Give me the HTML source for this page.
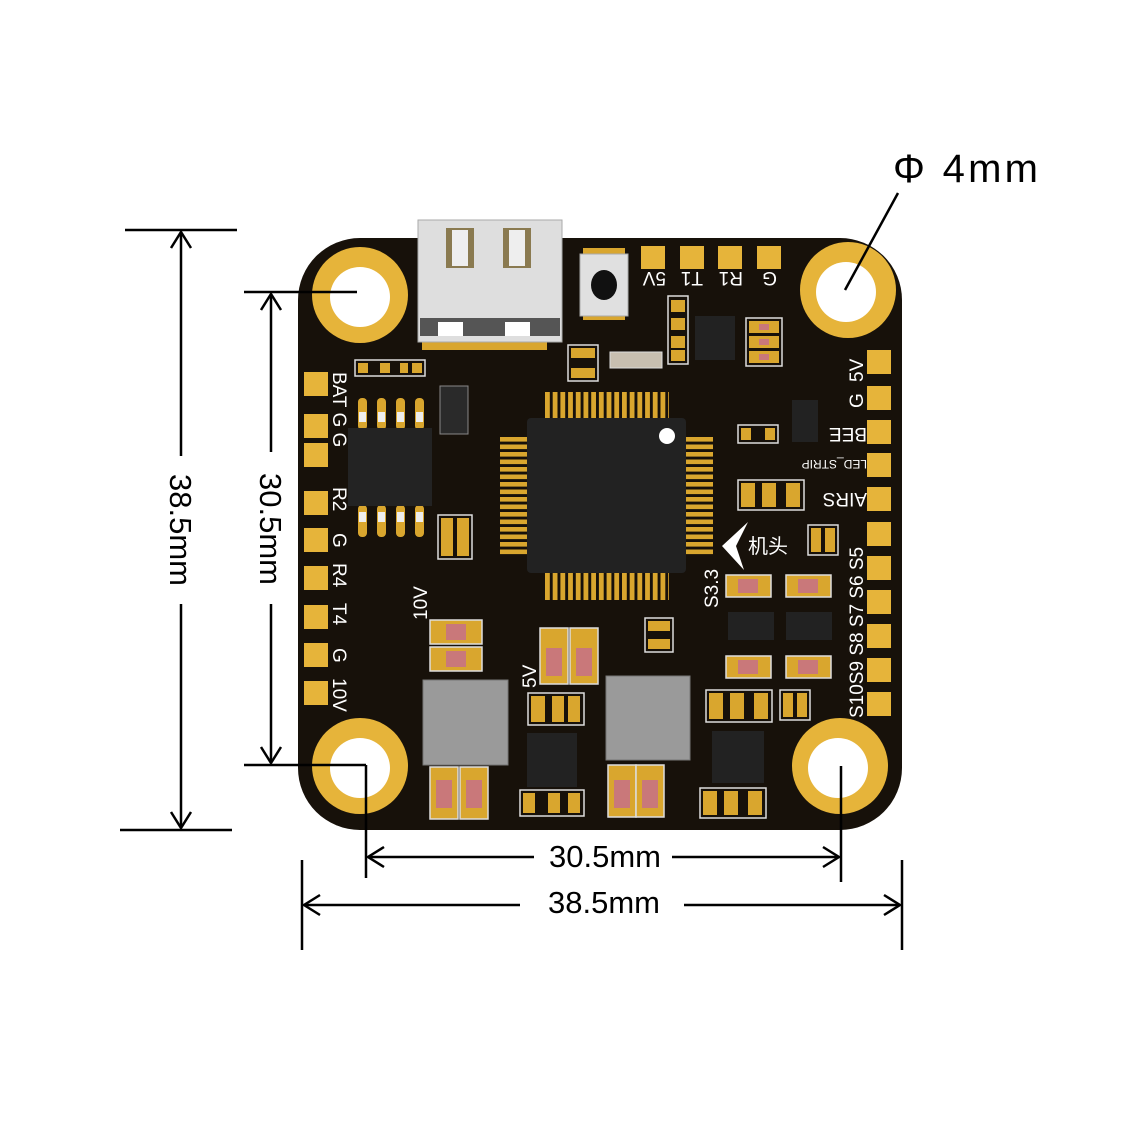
<!DOCTYPE html>
<html><head><meta charset="utf-8"><style>
html,body{margin:0;padding:0;background:#fff;}
svg{display:block;}
text{font-family:"Liberation Sans","Noto Sans CJK SC",sans-serif;}
</style></head><body>
<svg width="1133" height="1133" viewBox="0 0 1133 1133" xmlns="http://www.w3.org/2000/svg">
<defs>
<pattern id="pv" x="545" y="0" width="7.7" height="10" patternUnits="userSpaceOnUse"><rect x="0" y="0" width="4.8" height="10" fill="#d9a62e"/></pattern>
<pattern id="ph" x="0" y="437" width="10" height="7.5" patternUnits="userSpaceOnUse"><rect x="0" y="0" width="10" height="4.6" fill="#d9a62e"/></pattern>
</defs>
<!-- board -->
<rect x="298" y="238" width="604" height="592" rx="62" fill="#17110a"/>
<!-- holes -->
<g fill="#e6b43a">
<circle cx="360" cy="295" r="48"/><circle cx="848" cy="290" r="48"/>
<circle cx="360" cy="766" r="48"/><circle cx="840" cy="766" r="48"/>
</g>
<g fill="#fff">
<circle cx="360" cy="297" r="30"/><circle cx="846" cy="292" r="30"/>
<circle cx="360" cy="768" r="30"/><circle cx="838" cy="768" r="30"/>
</g>
<!-- USB -->
<rect x="422" y="336" width="125" height="14" fill="#d9a62e"/>
<rect x="418" y="220" width="144" height="122" fill="#dedede" stroke="#aaa"/>
<rect x="446" y="228" width="28" height="40" fill="#8a7a50"/><rect x="503" y="228" width="28" height="40" fill="#8a7a50"/>
<rect x="452" y="230" width="16" height="36" fill="#eee"/><rect x="509" y="230" width="16" height="36" fill="#eee"/>
<rect x="420" y="318" width="140" height="18" fill="#555"/>
<rect x="438" y="322" width="25" height="14" fill="#fff"/><rect x="505" y="322" width="25" height="14" fill="#fff"/>
<!-- button -->
<rect x="583" y="248" width="42" height="12" fill="#d9a62e"/><rect x="583" y="308" width="42" height="12" fill="#d9a62e"/>
<rect x="580" y="254" width="48" height="62" fill="#e0e0e0" stroke="#aaa"/>
<ellipse cx="604" cy="285" rx="13" ry="15" fill="#111"/>
<!-- top pads -->
<g fill="#e6b43a">
<rect x="641" y="246" width="24" height="23"/><rect x="680" y="246" width="24" height="23"/>
<rect x="718" y="246" width="24" height="23"/><rect x="757" y="246" width="24" height="23"/>
</g>
<!-- left pads -->
<g fill="#e6b43a">
<rect x="304" y="372" width="24" height="24"/><rect x="304" y="414" width="24" height="24"/><rect x="304" y="443" width="24" height="24"/>
<rect x="304" y="491" width="24" height="24"/><rect x="304" y="528" width="24" height="24"/><rect x="304" y="566" width="24" height="24"/>
<rect x="304" y="605" width="24" height="24"/><rect x="304" y="643" width="24" height="24"/><rect x="304" y="681" width="24" height="24"/>
</g>
<!-- right pads -->
<g fill="#e6b43a">
<rect x="867" y="350" width="24" height="24"/><rect x="867" y="386" width="24" height="24"/><rect x="867" y="420" width="24" height="24"/>
<rect x="867" y="453" width="24" height="24"/><rect x="867" y="487" width="24" height="24"/><rect x="867" y="522" width="24" height="24"/>
<rect x="867" y="556" width="24" height="24"/><rect x="867" y="590" width="24" height="24"/><rect x="867" y="624" width="24" height="24"/>
<rect x="867" y="658" width="24" height="24"/><rect x="867" y="692" width="24" height="24"/>
</g>
<!-- MCU -->
<rect x="545" y="392" width="124" height="26" fill="url(#pv)"/>
<rect x="545" y="573" width="124" height="27" fill="url(#pv)"/>
<rect x="500" y="437" width="27" height="120" fill="url(#ph)"/>
<rect x="686" y="437" width="27" height="120" fill="url(#ph)"/>
<rect x="527" y="418" width="159" height="155" rx="4" fill="#222"/>
<circle cx="667" cy="436" r="8" fill="#fff"/>
<!-- left chip -->
<g fill="#d9a62e"><rect x="358" y="398" width="9" height="32" rx="4"/><rect x="377" y="398" width="9" height="32" rx="4"/><rect x="396" y="398" width="9" height="32" rx="4"/><rect x="415" y="398" width="9" height="32" rx="4"/>
<rect x="358" y="505" width="9" height="32" rx="4"/><rect x="377" y="505" width="9" height="32" rx="4"/><rect x="396" y="505" width="9" height="32" rx="4"/><rect x="415" y="505" width="9" height="32" rx="4"/></g>
<g fill="#eee"><rect x="359" y="412" width="7" height="10"/><rect x="378" y="412" width="7" height="10"/><rect x="397" y="412" width="7" height="10"/><rect x="416" y="412" width="7" height="10"/>
<rect x="359" y="512" width="7" height="10"/><rect x="378" y="512" width="7" height="10"/><rect x="397" y="512" width="7" height="10"/><rect x="416" y="512" width="7" height="10"/></g>
<rect x="348" y="428" width="84" height="78" fill="#232323"/>
<rect x="440" y="386" width="28" height="48" fill="#2a2a2a" stroke="#888"/>
<!-- inductors -->
<rect x="423" y="680" width="85" height="85" fill="#9a9a9a" stroke="#777"/>
<rect x="606" y="676" width="84" height="84" fill="#9a9a9a" stroke="#777"/>
<!-- small chips -->
<rect x="527" y="733" width="50" height="54" fill="#222"/>
<rect x="712" y="731" width="52" height="52" fill="#222"/>
<rect x="695" y="316" width="40" height="44" fill="#222"/>
<rect x="728" y="612" width="46" height="28" fill="#222"/>
<rect x="786" y="612" width="46" height="28" fill="#222"/>
<rect x="792" y="400" width="26" height="42" fill="#222"/>
<rect x="610" y="352" width="52" height="16" fill="#c8bfb0" stroke="#ddd"/>
<!-- small passive outlines -->
<g fill="#17110a" stroke="#ddd" stroke-width="1.5">
<rect x="355" y="360" width="70" height="16"/><rect x="738" y="480" width="66" height="30"/>
<rect x="738" y="425" width="40" height="18"/><rect x="808" y="525" width="30" height="30"/>
<rect x="700" y="788" width="66" height="30"/><rect x="520" y="790" width="64" height="26"/>
<rect x="780" y="690" width="30" height="30"/><rect x="706" y="690" width="66" height="32"/>
<rect x="528" y="693" width="56" height="32"/><rect x="645" y="618" width="28" height="34"/>
<rect x="438" y="515" width="34" height="44"/><rect x="568" y="345" width="30" height="36"/>
<rect x="746" y="318" width="36" height="48"/>
<rect x="668" y="296" width="20" height="68"/><rect x="670" y="252" width="50" height="0"/>
</g>
<g fill="#d9a62e">
<rect x="358" y="363" width="10" height="10"/><rect x="380" y="363" width="10" height="10"/><rect x="400" y="363" width="8" height="10"/><rect x="412" y="363" width="10" height="10"/>
<rect x="741" y="483" width="14" height="24"/><rect x="762" y="483" width="14" height="24"/><rect x="786" y="483" width="14" height="24"/>
<rect x="741" y="428" width="10" height="12"/><rect x="765" y="428" width="10" height="12"/>
<rect x="811" y="528" width="10" height="24"/><rect x="825" y="528" width="10" height="24"/>
<rect x="703" y="791" width="14" height="24"/><rect x="724" y="791" width="14" height="24"/><rect x="748" y="791" width="14" height="24"/>
<rect x="523" y="793" width="12" height="20"/><rect x="548" y="793" width="12" height="20"/><rect x="568" y="793" width="12" height="20"/>
<rect x="783" y="693" width="10" height="24"/><rect x="797" y="693" width="10" height="24"/>
<rect x="709" y="693" width="14" height="26"/><rect x="730" y="693" width="14" height="26"/><rect x="754" y="693" width="14" height="26"/>
<rect x="531" y="696" width="14" height="26"/><rect x="552" y="696" width="12" height="26"/><rect x="568" y="696" width="12" height="26"/>
<rect x="648" y="621" width="22" height="10"/><rect x="648" y="639" width="22" height="10"/>
<rect x="441" y="518" width="12" height="38"/><rect x="457" y="518" width="12" height="38"/>
<rect x="571" y="348" width="24" height="10"/><rect x="571" y="368" width="24" height="10"/>
<rect x="749" y="321" width="30" height="12"/><rect x="749" y="336" width="30" height="12"/><rect x="749" y="351" width="30" height="12"/>
<rect x="671" y="300" width="14" height="12"/><rect x="671" y="318" width="14" height="12"/><rect x="671" y="336" width="14" height="12"/><rect x="671" y="350" width="14" height="11"/>
</g>
<!-- caps/resistors -->
<g fill="#d9a62e" stroke="#ddd" stroke-width="1.5">
<rect x="430" y="620" width="52" height="24"/><rect x="430" y="647" width="52" height="24"/>
<rect x="540" y="628" width="28" height="56"/><rect x="570" y="628" width="28" height="56"/>
<rect x="430" y="767" width="28" height="52"/><rect x="460" y="767" width="28" height="52"/>
<rect x="608" y="765" width="28" height="52"/><rect x="636" y="765" width="28" height="52"/>
<rect x="726" y="575" width="45" height="22"/><rect x="786" y="575" width="45" height="22"/>
<rect x="726" y="656" width="45" height="22"/><rect x="786" y="656" width="45" height="22"/>
</g>
<g fill="#c9787a">
<rect x="446" y="624" width="20" height="16"/><rect x="446" y="651" width="20" height="16"/>
<rect x="546" y="648" width="16" height="28"/><rect x="576" y="648" width="16" height="28"/>
<rect x="436" y="780" width="16" height="28"/><rect x="466" y="780" width="16" height="28"/>
<rect x="614" y="780" width="16" height="28"/><rect x="642" y="780" width="16" height="28"/>
<rect x="738" y="579" width="20" height="14"/><rect x="798" y="579" width="20" height="14"/>
<rect x="738" y="660" width="20" height="14"/><rect x="798" y="660" width="20" height="14"/>
<rect x="759" y="324" width="10" height="6"/><rect x="759" y="339" width="10" height="6"/><rect x="759" y="354" width="10" height="6"/>
</g>
<!-- arrow -->
<polygon points="748,522 722,546 744,570 736,546" fill="#fff"/>
<!-- silkscreen labels -->
<g fill="#fff" font-size="19">
<text transform="translate(333,372) rotate(90)">BAT G G</text>
<text transform="translate(333,487) rotate(90)">R2</text>
<text transform="translate(333,533) rotate(90)">G</text>
<text transform="translate(333,563) rotate(90)">R4</text>
<text transform="translate(333,603) rotate(90)">T4</text>
<text transform="translate(333,648) rotate(90)">G</text>
<text transform="translate(333,678) rotate(90)">10V</text>
<text transform="translate(427,620) rotate(-90)">10V</text>
<text transform="translate(536,688) rotate(-90)">5V</text>
<text transform="translate(718,608) rotate(-90)">S3.3</text>
<text transform="translate(863,718) rotate(-90)">S10S9 S8 S7 S6 S5</text>
<text transform="translate(863,408) rotate(-90)">G</text>
<text transform="translate(863,382) rotate(-90)">5V</text>
<text transform="translate(867,493) rotate(180)">AIRS</text>
<text transform="translate(867,428) rotate(180)">BEE</text>
<text transform="translate(867,460) rotate(180)" font-size="12">LED_STRIP</text>
<text transform="translate(666,272) rotate(180)">5V</text>
<text transform="translate(703,272) rotate(180)">T1</text>
<text transform="translate(743,272) rotate(180)">R1</text>
<text transform="translate(777,272) rotate(180)">G</text>
<text x="748" y="553" font-size="20">机头</text>
</g>
<!-- dimensions -->
<g stroke="#000" stroke-width="2.5" fill="none">
<line x1="125" y1="230" x2="237" y2="230"/><line x1="120" y1="830" x2="232" y2="830"/>
<line x1="181" y1="232" x2="181" y2="456"/><line x1="181" y1="604" x2="181" y2="828"/>
<polyline points="171,248 181,232 191,248"/><polyline points="171,812 181,828 191,812"/>
<line x1="244" y1="292" x2="357" y2="292"/><line x1="244" y1="765" x2="366" y2="765"/>
<line x1="271" y1="294" x2="271" y2="452"/><line x1="271" y1="604" x2="271" y2="763"/>
<polyline points="261,310 271,294 281,310"/><polyline points="261,747 271,763 281,747"/>
<line x1="366" y1="765" x2="366" y2="878"/><line x1="841" y1="766" x2="841" y2="882"/>
<line x1="368" y1="857" x2="534" y2="857"/><line x1="672" y1="857" x2="839" y2="857"/>
<polyline points="384,847 368,857 384,867"/><polyline points="823,847 839,857 823,867"/>
<line x1="302" y1="860" x2="302" y2="950"/><line x1="902" y1="860" x2="902" y2="950"/>
<line x1="304" y1="905" x2="520" y2="905"/><line x1="684" y1="905" x2="900" y2="905"/>
<polyline points="320,895 304,905 320,915"/><polyline points="884,895 900,905 884,915"/>
<line x1="898" y1="193" x2="845" y2="290"/>
</g>
<g fill="#000" font-size="31" font-family="Liberation Sans, sans-serif">
<text transform="translate(170,530) rotate(90)" text-anchor="middle">38.5mm</text>
<text transform="translate(260,529) rotate(90)" text-anchor="middle">30.5mm</text>
<text x="605" y="867" text-anchor="middle">30.5mm</text>
<text x="604" y="913" text-anchor="middle">38.5mm</text>
<text x="893" y="182" font-size="40" textLength="145" lengthAdjust="spacing">Φ 4mm</text>
</g>
</svg>
</body></html>
